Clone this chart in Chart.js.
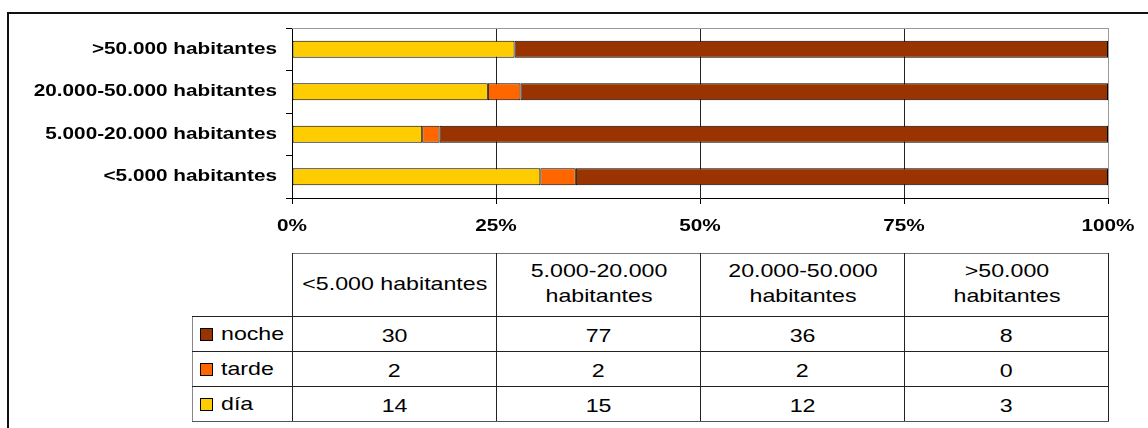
<!DOCTYPE html>
<html lang="es">
<head>
<meta charset="utf-8">
<title>Franja horaria según tamaño del municipio</title>
<script src="https://cdn.jsdelivr.net/npm/chart.js@4.4.1/dist/chart.umd.min.js"></script>
<style>
  html, body { margin: 0; padding: 0; background: #fff; }
  body {
    position: relative;
    width: 1148px;
    height: 428px;
    overflow: hidden;
    font-family: 'Liberation Sans', Arial, sans-serif;
  }
  /* outer chart frame, runs off the right and bottom edges */
  .frame {
    position: absolute;
    left: 7px;
    top: 12px;
    width: 1200px;
    height: 500px;
    border-left: 2px solid #111;
    border-top: 2px solid #111;
  }
  .chart-box {
    position: absolute;
    left: 0;
    top: 0;
    width: 1148px;
    height: 240px;
  }
  #dataTable {
    position: absolute;
    top: 253px;
    border-collapse: collapse;
    table-layout: fixed;
    font-size: 19px;
    color: #000;
    background: #fff;
  }
  #dataTable td {
    border: 1px solid #222;
    text-align: center;
    padding: 0;
    height: 34px;
  }
  #dataTable td.corner { border-top: none; border-left: none; }
  #dataTable td.head { height: 62px; border-top-color: #777; vertical-align: middle; }
  #dataTable td.head span {
    display: inline-block;
    max-width: 156px;
    line-height: 25px;
    padding-bottom: 4px;
    transform: scaleX(1.22);
  }
  #dataTable td.val span {
    display: inline-block;
    transform: scaleX(1.22);
    position: relative;
    top: 2px;
  }
  #dataTable td.key {
    text-align: left;
    border-left-color: #888;
    white-space: nowrap;
  }
  #dataTable tr:last-child td { border-bottom-color: #555; }
  .swatch {
    display: inline-block;
    width: 11px;
    height: 11px;
    border: 1px solid #000;
    margin-left: 7px;
    margin-right: 8px;
    vertical-align: -1px;
  }
  .key-label {
    display: inline-block;
    transform: scaleX(1.22);
    transform-origin: left center;
  }
</style>
</head>
<body>
<div class="frame"></div>
<div class="chart-box"><canvas id="franjaChart"></canvas></div>
<table id="dataTable"></table>

<script>
// Municipality size groups (table order; bottom to top on the chart)
const categories = ['<5.000 habitantes', '5.000-20.000 habitantes', '20.000-50.000 habitantes', '>50.000 habitantes'];

// Counts per time slot
const noche = [30, 77, 36, 8];
const tarde = [2, 2, 2, 0];
const dia = [14, 15, 12, 3];

const seriesNames = ['noche', 'tarde', 'día'];
const seriesColors = ['#993300', '#FF6600', '#FFCC00'];

// Percent axis ticks
const xTicks = [0, 25, 50, 75, 100];

const TEXT_STRETCH = 1.22;
const labelFont = { family: "'Liberation Sans', Arial, sans-serif", size: 17, weight: 'bold' };

// Share of each slot within a group, so every bar reaches 100%
const totals = categories.map((_, i) => noche[i] + tarde[i] + dia[i]);
const share = arr => arr.map((v, i) => v / totals[i] * 100);

// Wider text, like the old office renderer
const wideText = {
    id: 'wideText',
    afterInit(chart) {
        const ctx = chart.ctx;
        const fill = ctx.fillText;
        ctx.fillText = function (text, x, y) {
            this.save();
            this.translate(x, y);
            this.scale(TEXT_STRETCH, 1);
            fill.call(this, text, 0, 0);
            this.restore();
        };
    }
};

// Grey top edge of the plot area
const plotFrame = {
    id: 'plotFrame',
    afterDraw(chart) {
        const { ctx, chartArea } = chart;
        const y = Math.round(chartArea.top) + 0.5;
        ctx.save();
        ctx.strokeStyle = '#999';
        ctx.lineWidth = 1;
        ctx.beginPath();
        ctx.moveTo(chartArea.left, y);
        ctx.lineTo(chartArea.right, y);
        ctx.stroke();
        ctx.restore();
    }
};

const ctx = document.getElementById('franjaChart').getContext('2d');

const chart = new Chart(ctx, {
    type: 'bar',
    data: {
        labels: categories,
        datasets: [
            { label: 'día', data: share(dia), backgroundColor: '#FFCC00' },
            { label: 'tarde', data: share(tarde), backgroundColor: '#FF6600' },
            { label: 'noche', data: share(noche), backgroundColor: '#993300' }
        ].map(ds => ({
            ...ds,
            borderColor: '#000',
            borderWidth: 1,
            borderSkipped: false,
            barPercentage: 0.4,
            categoryPercentage: 1
        }))
    },
    options: {
        indexAxis: 'y',
        responsive: true,
        maintainAspectRatio: false,
        animation: false,
        layout: { padding: { top: 28, right: 40, left: 0, bottom: 0 } },
        plugins: {
            legend: { display: false },
            tooltip: { enabled: false }
        },
        scales: {
            x: {
                stacked: true,
                min: 0,
                max: 100,
                afterBuildTicks: scale => {
                    scale.ticks = xTicks.map(v => ({ value: v }));
                },
                afterFit: scale => { scale.height = 42; },
                ticks: {
                    color: '#000',
                    font: labelFont,
                    padding: 12,
                    maxRotation: 0,
                    callback: v => v + '%'
                },
                grid: {
                    color: c => (c.tick && c.tick.value === 100 ? '#999' : '#222'),
                    tickColor: '#000',
                    tickLength: 6,
                    lineWidth: 1
                },
                border: { color: '#000', width: 1 }
            },
            y: {
                stacked: true,
                reverse: true,
                afterFit: scale => { scale.width = 292; },
                ticks: {
                    color: '#000',
                    font: labelFont,
                    padding: 9
                },
                grid: {
                    drawOnChartArea: false,
                    tickColor: '#000',
                    tickLength: 6
                },
                border: { color: '#000', width: 1 }
            }
        }
    },
    plugins: [wideText, plotFrame]
});

// Data table under the plot, columns lined up with the plot width
function buildTable() {
    const table = document.getElementById('dataTable');
    const area = chart.chartArea;
    const keyWidth = 100;
    const colWidth = (area.right - area.left) / categories.length;
    table.style.left = (area.left - keyWidth) + 'px';
    table.style.width = (area.right - area.left + keyWidth) + 'px';

    const colgroup = document.createElement('colgroup');
    [keyWidth, ...categories.map(() => colWidth)].forEach(w => {
        const col = document.createElement('col');
        col.style.width = w + 'px';
        colgroup.appendChild(col);
    });
    table.appendChild(colgroup);

    const head = document.createElement('tr');
    const corner = document.createElement('td');
    corner.className = 'corner';
    head.appendChild(corner);
    categories.forEach(c => {
        const td = document.createElement('td');
        td.className = 'head';
        const span = document.createElement('span');
        span.textContent = c;
        td.appendChild(span);
        head.appendChild(td);
    });
    table.appendChild(head);

    [noche, tarde, dia].forEach((values, s) => {
        const tr = document.createElement('tr');
        const key = document.createElement('td');
        key.className = 'key';
        const sw = document.createElement('span');
        sw.className = 'swatch';
        sw.style.background = seriesColors[s];
        const name = document.createElement('span');
        name.className = 'key-label';
        name.textContent = seriesNames[s];
        key.appendChild(sw);
        key.appendChild(name);
        tr.appendChild(key);
        values.forEach(v => {
            const td = document.createElement('td');
            td.className = 'val';
            const span = document.createElement('span');
            span.textContent = v;
            td.appendChild(span);
            tr.appendChild(td);
        });
        table.appendChild(tr);
    });
}

buildTable();
</script>
</body>
</html>
